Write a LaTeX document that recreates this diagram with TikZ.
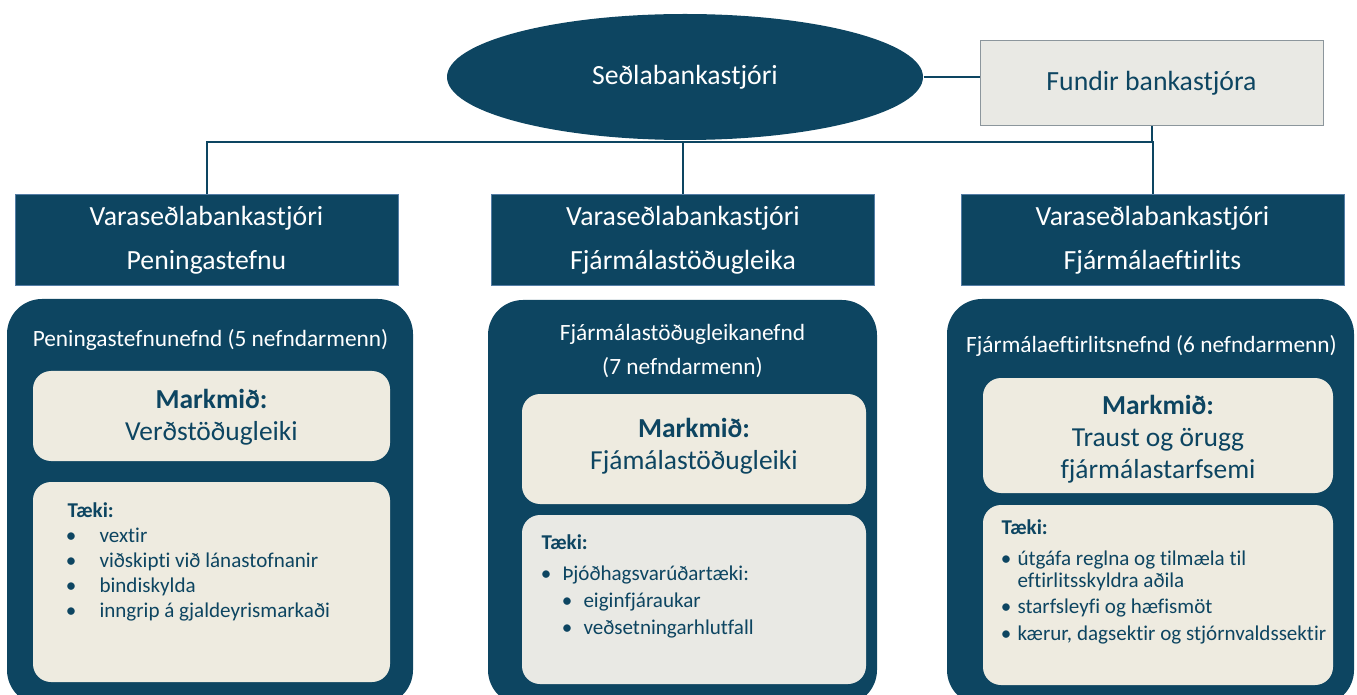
\documentclass[tikz,border=0pt]{standalone}
\usepackage{fontspec}
\setmainfont{Carlito}[Ligatures=NoCommon]
\usetikzlibrary{shapes.geometric}
\definecolor{navy}{RGB}{13,69,97}
\definecolor{paper}{RGB}{238,235,224}
\definecolor{paleGrey}{RGB}{233,233,228}
\definecolor{edgeBlue}{RGB}{84,125,165}
\definecolor{edgeGrey}{RGB}{140,150,156}

\tikzset{every picture/.style={line width=0.75pt}}

\begin{document}
\begin{tikzpicture}[x=0.75pt,y=0.75pt,yscale=-1,xscale=1,
    head/.style={draw=edgeBlue, fill=navy, text=white, minimum width=287.25pt, minimum height=68.25pt, align=center, inner sep=0pt, font=\fontsize{20.8}{33}\selectfont},
    title/.style={text=white, align=center, inner sep=0.75pt, font=\fontsize{17.5}{26}\selectfont},
    goal/.style={text=navy, align=center, inner sep=0.75pt, font=\fontsize{20.6}{24}\selectfont},
    tool/.style={text=navy, anchor=mid west, inner sep=0pt, yshift=-3pt, font=\fontsize{15.8}{19}\selectfont},
    dot/.style={text=navy, anchor=mid, inner sep=0pt, yshift=-3pt, font=\fontsize{15.8}{19}\selectfont},
    link/.style={draw=navy, line width=1.5pt}]
    \clip (0,0) rectangle (1357,695);

    %Shape: Ellipse [chief]
    \node (chief) at (685,77) [ellipse, fill=navy, minimum width=357pt, minimum height=94.5pt, inner sep=0pt, text=white, font=\fontsize{20.8}{25}\selectfont] {Seðlabankastjóri};
    %Shape: Rectangle [meetings]
    \node (meet) at (1151.5,83.5) [draw=edgeGrey, fill=paleGrey, minimum width=257.25pt, minimum height=63.75pt, text=navy, font=\fontsize{20.8}{25}\selectfont] {Fundir bankastjóra};

    %Shape: Rectangle [deputies]
    \node (headA) at (206.5,240.5) [head] {Varaseðlabankastjóri\\Peningastefnu};
    \node (headB) at (683,240.5) [head] {Varaseðlabankastjóri\\Fjármálastöðugleika};
    \node (headC) at (1152.5,240.5) [head] {Varaseðlabankastjóri\\Fjármálaeftirlits};

    %Straight Lines [tree]
    \coordinate (bus) at (683,142);
    \draw [link] (chief.east) -- (chief.east -| meet.west);
    \draw [link] (headA.north) |- (bus) -| (headC.north);
    \draw [link] (bus) -- (headB.north);
    \draw [link] (meet.south) -- (meet.south |- bus);

    %Shape: Rounded Rectangle [committees]
    \draw [draw=none, fill=navy, rounded corners=26.25pt] (7,299) rectangle (413,705);
    \draw [draw=none, fill=navy, rounded corners=26.25pt] (488,300) rectangle (877,705);
    \draw [draw=none, fill=navy, rounded corners=26.25pt] (947,299) rectangle (1354,705);
    %Shape: Rounded Rectangle [goals]
    \draw [draw=none, fill=paper, rounded corners=13.5pt] (33,371) rectangle (390,461);
    \draw [draw=none, fill=paper, rounded corners=13.5pt] (522,394) rectangle (866,504);
    \draw [draw=none, fill=paper, rounded corners=13.5pt] (983,378) rectangle (1333,493);
    %Shape: Rounded Rectangle [tools]
    \draw [draw=none, fill=paper, rounded corners=13.5pt] (33,482) rectangle (390,682);
    \draw [draw=none, fill=paleGrey, rounded corners=13.5pt] (522,515) rectangle (866,684);
    \draw [draw=none, fill=paper, rounded corners=13.5pt] (983,505) rectangle (1333,685);

    % Text Node
    \node (titleA) at (210.5,340) [title] {Peningastefnunefnd (5 nefndarmenn)};
    \node (titleB) at (682.5,351) [title] {Fjármálastöðugleikanefnd\\(7 nefndarmenn)};
    \node (titleC) at (1151.5,346) [title] {Fjármálaeftirlitsnefnd (6 nefndarmenn)};
    % Text Node
    \node (goalA) at (211.5,417) [goal] {\textbf{Markmið:}\\Verðstöðugleiki};
    \node (goalB) at (694,446) [goal] {\textbf{Markmið:}\\Fjámálastöðugleiki};
    \node (goalC) at (1158,439) [goal] {\textbf{Markmið:}\\Traust og örugg\\fjármálastarfsemi};

    % Text Node
    \node (toolsA) at (67,510) [tool] {\textbf{Tæki:}};
    \node (dotA1) at (71,535) [dot] {•};
    \node (itemA1) at (99,535) [tool] {vextir};
    \node (dotA2) at (71,560) [dot] {•};
    \node (itemA2) at (99,560) [tool] {viðskipti við lánastofnanir};
    \node (dotA3) at (71,585) [dot] {•};
    \node (itemA3) at (99,585) [tool] {bindiskylda};
    \node (dotA4) at (71,610) [dot] {•};
    \node (itemA4) at (99,610) [tool] {inngrip á gjaldeyrismarkaði};

    % Text Node
    \node (toolsB) at (541,542) [tool] {\textbf{Tæki:}};
    \node (dotB1) at (546,573) [dot] {•};
    \node (itemB1) at (562,573) [tool] {Þjóðhagsvarúðartæki:};
    \node (dotB2) at (567,600) [dot] {•};
    \node (itemB2) at (583,600) [tool] {eiginfjáraukar};
    \node (dotB3) at (567,627) [dot] {•};
    \node (itemB3) at (583,627) [tool] {veðsetningarhlutfall};

    % Text Node
    \node (toolsC) at (1001,527) [tool] {\textbf{Tæki:}};
    \node (dotC1) at (1006,558) [dot] {•};
    \node (itemC1) at (1017,558) [tool] {útgáfa reglna og tilmæla til};
    \node (itemC1b) at (1017,580) [tool] {eftirlitsskyldra aðila};
    \node (dotC2) at (1006,606) [dot] {•};
    \node (itemC2) at (1017,606) [tool] {starfsleyfi og hæfismöt};
    \node (dotC3) at (1006,633) [dot] {•};
    \node (itemC3) at (1017,633) [tool] {kærur, dagsektir og stjórnvaldssektir};

\end{tikzpicture}
\end{document}
